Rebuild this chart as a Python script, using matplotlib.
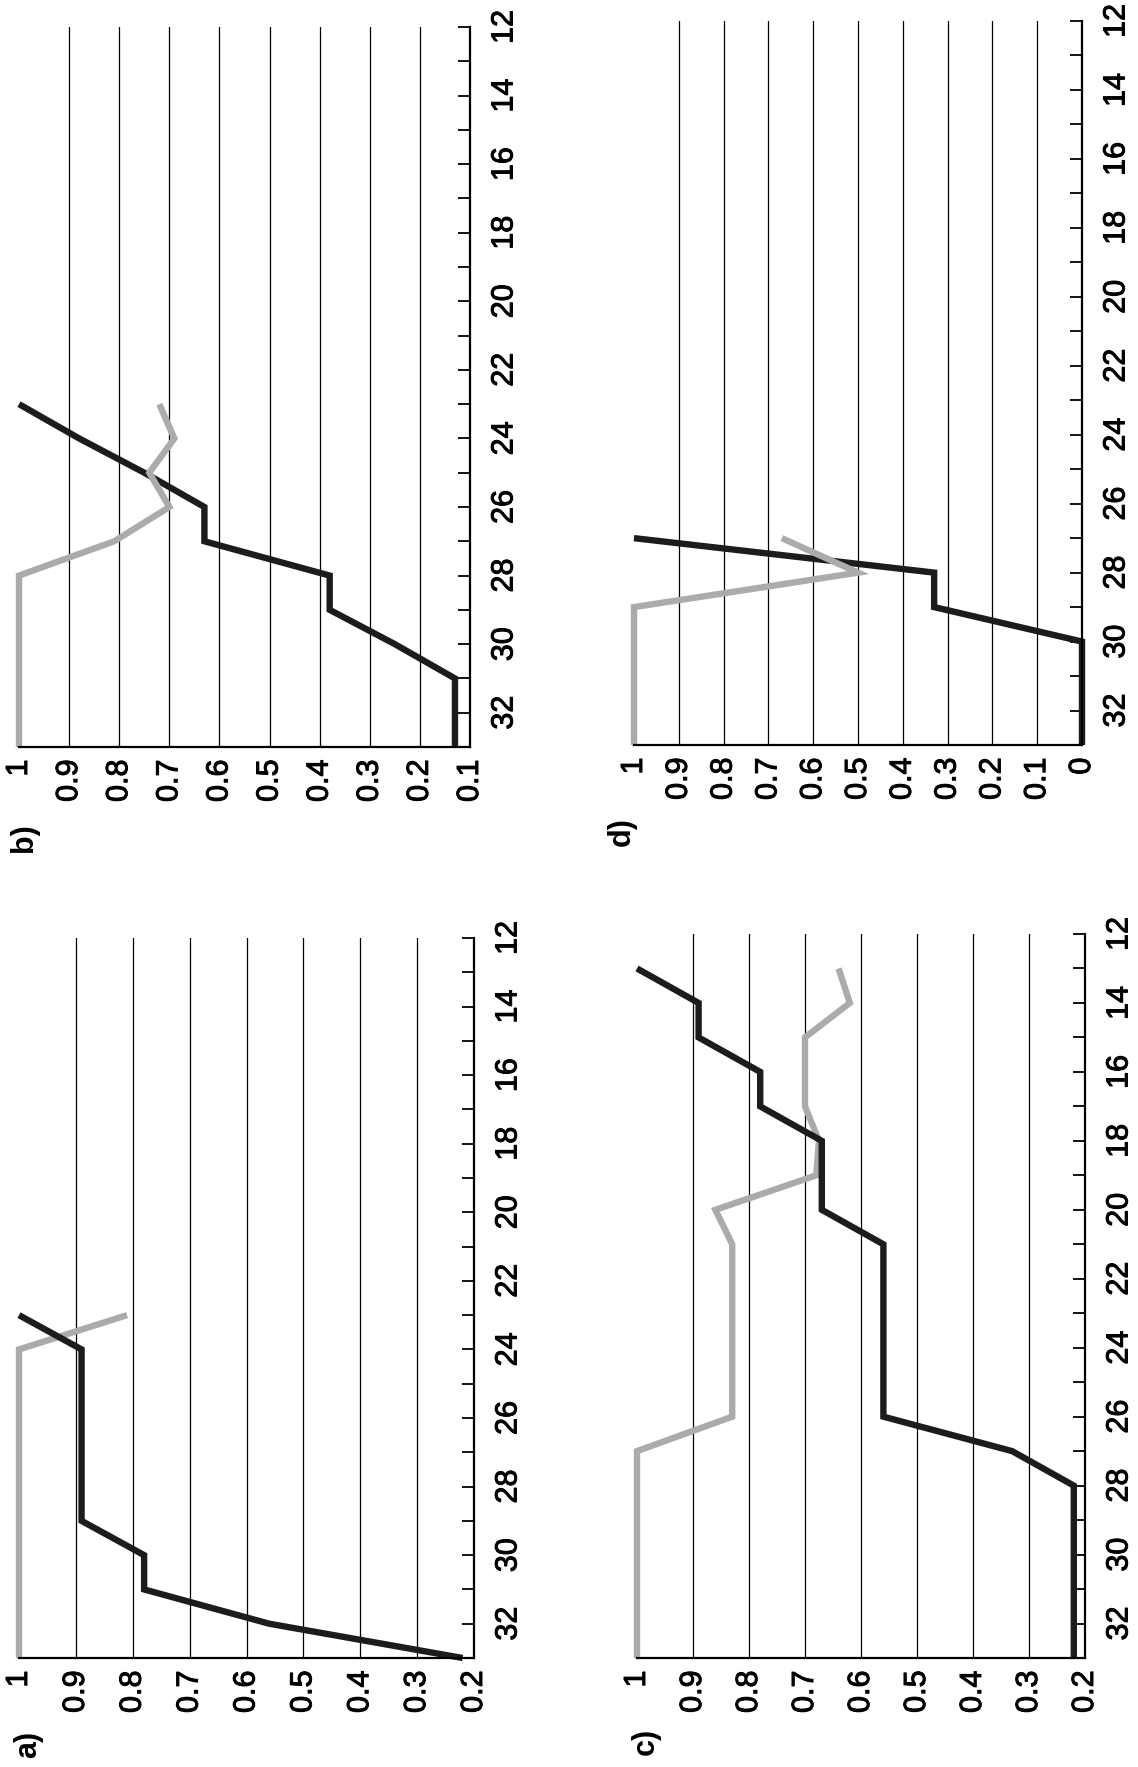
import matplotlib
matplotlib.use('Agg')
import matplotlib.pyplot as plt
import matplotlib.patheffects as pe

plt.rcParams['font.family'] = ['Liberation Sans', 'DejaVu Sans']

# ---------------- data (category = x of original chart, value = y) -------------
cat_ticks_major = [12, 14, 16, 18, 20, 22, 24, 26, 28, 30, 32]
cat_ticks_minor = [13, 15, 17, 19, 21, 23, 25, 27, 29, 31, 33]

a_cats = [33, 32, 31, 30, 29, 28, 27, 26, 25, 24, 23]
a_dark = [0.22, 0.56, 0.78, 0.78, 0.89, 0.89, 0.89, 0.89, 0.89, 0.89, 1.0]
a_gray = [1.0, 1.0, 1.0, 1.0, 1.0, 1.0, 1.0, 1.0, 1.0, 1.0, 0.81]

b_cats = [33, 32, 31, 30, 29, 28, 27, 26, 25, 24, 23]
b_dark = [0.13, 0.13, 0.13, 0.25, 0.38, 0.38, 0.63, 0.63, 0.75, 0.88, 1.0]
b_gray = [1.0, 1.0, 1.0, 1.0, 1.0, 1.0, 0.81, 0.70, 0.74, 0.69, 0.72]

c_cats = [33, 32, 31, 30, 29, 28, 27, 26, 25, 24, 23, 22, 21, 20, 19, 18, 17, 16, 15, 14, 13]
c_dark = [0.22, 0.22, 0.22, 0.22, 0.22, 0.22, 0.33, 0.56, 0.56, 0.56, 0.56, 0.56, 0.56,
          0.67, 0.67, 0.67, 0.78, 0.78, 0.89, 0.89, 1.0]
c_gray = [1.0, 1.0, 1.0, 1.0, 1.0, 1.0, 1.0, 0.83, 0.83, 0.83, 0.83, 0.83, 0.83,
          0.86, 0.68, 0.675, 0.70, 0.70, 0.70, 0.62, 0.64]

d_cats = [33, 32, 31, 30, 29, 28, 27]
d_dark = [0.0, 0.0, 0.0, 0.0, 0.33, 0.33, 1.0]
d_gray = [1.0, 1.0, 1.0, 1.0, 1.0, 0.5, 0.67]

a_vticks = [1.0, 0.9, 0.8, 0.7, 0.6, 0.5, 0.4, 0.3, 0.2]
b_vticks = [1.0, 0.9, 0.8, 0.7, 0.6, 0.5, 0.4, 0.3, 0.2, 0.1]
c_vticks = [1.0, 0.9, 0.8, 0.7, 0.6, 0.5, 0.4, 0.3, 0.2]
d_vticks = [1.0, 0.9, 0.8, 0.7, 0.6, 0.5, 0.4, 0.3, 0.2, 0.1, 0.0]

panel_labels = ['a)', 'b)', 'c)', 'd)']

# ---------------- layout (pixels in a 1138 x 1767 canvas) ----------------------
W, H = 1138, 1767
# x0 (value=max), x1 (value=min), y0 (cat 12), y1 (cat 33)
boxes = {
    'a': (19, 474, 938, 1658),
    'b': (19, 470, 27, 747),
    'c': (637, 1085, 934, 1658),
    'd': (634, 1082, 21, 745),
}
label_pos = {'a': (28, 1744), 'b': (24, 838), 'c': (646, 1741), 'd': (622, 832)}

panels = {
    'a': (a_cats, a_dark, a_gray, a_vticks, True),
    'b': (b_cats, b_dark, b_gray, b_vticks, False),
    'c': (c_cats, c_dark, c_gray, c_vticks, True),
    'd': (d_cats, d_dark, d_gray, d_vticks, False),
}

DARK = '#1c1c1c'
GRAY = '#ababab'
FS = 22
thick = [pe.withStroke(linewidth=0.7, foreground='black')]


def fmt(v):
    if abs(v - 1.0) < 1e-9:
        return '1'
    if abs(v) < 1e-9:
        return '0'
    return f'{v:.1f}'


fig = plt.figure(figsize=(W / 100, H / 100), dpi=100)

for key, lab in zip(['a', 'b', 'c', 'd'], panel_labels):
    cats, dark, gray, vticks, dark_on_top = panels[key]
    x0, x1, y0, y1 = boxes[key]
    ax = fig.add_axes([x0 / W, 1 - y1 / H, (x1 - x0) / W, (y1 - y0) / H])
    ax.set_xlim(max(vticks), min(vticks))
    ax.set_ylim(33, 12)

    zd, zg = (4, 3) if dark_on_top else (3, 4)
    ax.plot(gray, cats, color=GRAY, lw=4.6, solid_joinstyle='miter',
            solid_capstyle='butt', zorder=zg, clip_on=False)
    ax.plot(dark, cats, color=DARK, lw=4.6, solid_joinstyle='miter',
            solid_capstyle='butt', zorder=zd, clip_on=False)

    for s in ['top', 'left']:
        ax.spines[s].set_visible(False)
    for s in ['bottom', 'right']:
        ax.spines[s].set_linewidth(1.6)
        ax.spines[s].set_color('black')
        ax.spines[s].set_zorder(5)

    # value axis (horizontal after rotation)
    ax.set_xticks(vticks, [fmt(v) for v in vticks], rotation=90, fontsize=FS)
    ax.tick_params(axis='x', length=0, pad=9)
    ax.grid(axis='x', color='black', lw=0.9, zorder=1)
    for t, v in zip(ax.xaxis.get_major_ticks(), vticks):
        if v == max(vticks) or v == min(vticks):
            t.gridline.set_visible(False)

    # category axis (vertical after rotation, on the right)
    ax.yaxis.tick_right()
    ax.set_yticks(cat_ticks_major, [str(c) for c in cat_ticks_major],
                  rotation=90, va='center', fontsize=FS)
    ax.set_yticks(cat_ticks_minor, minor=True)
    ax.tick_params(axis='y', which='both', direction='in', length=8.5,
                   width=1.3, right=True, left=False, pad=14)
    ax.set_axisbelow(True)

    for t in ax.get_xticklabels() + ax.get_yticklabels():
        t.set_path_effects(thick)

    fig.text(label_pos[key][0] / W, 1 - label_pos[key][1] / H, lab,
             rotation=90, ha='center', va='center', fontsize=22,
             fontweight='bold')

fig.savefig('out.png', dpi=100)
